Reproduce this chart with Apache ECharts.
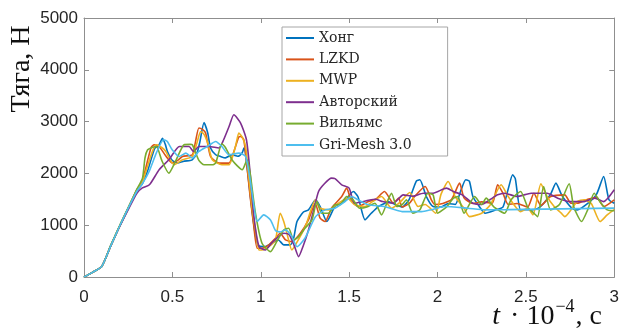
<!DOCTYPE html>
<html>
<head>
<meta charset="utf-8">
<script src="https://cdn.jsdelivr.net/npm/echarts@6/dist/echarts.min.js"></script>
<style>
  html, body { margin: 0; padding: 0; background: #fff; }
  #chart { width: 622px; height: 331px; }
</style>
</head>
<body>
<div id="chart"></div>
<script>
// Thrust vs. time, six models; each series is [t·1e4 (s), thrust (N)]
const seriesNames = ['Хонг', 'LZKD', 'MWP', 'Авторский', 'Вильямс', 'Gri-Mesh 3.0'];
const seriesColors = ['#0072BD', '#D95319', '#EDB120', '#7E2F8E', '#77AC30', '#4DBEEE'];

const xTicks = [0, 0.5, 1, 1.5, 2, 2.5, 3];
const yTicks = [0, 1000, 2000, 3000, 4000, 5000];

const hong = [[0,0],[0.05,95],[0.1,200],[0.15,590],[0.2,970],[0.25,1320],[0.3,1670],[0.33,1800],[0.36,2050],[0.4,2480],[0.425,2553],[0.444,2680],[0.46,2560],[0.472,2423],[0.5,2250],[0.53,2200],[0.56,2230],[0.6,2250],[0.613,2263],[0.64,2400],[0.655,2600],[0.679,2980],[0.7,2780],[0.716,2490],[0.745,2360],[0.77,2330],[0.8,2300],[0.838,2360],[0.87,2330],[0.895,2400],[0.905,2490],[0.915,2350],[0.93,1900],[0.95,1300],[0.97,800],[0.99,600],[1.026,586],[1.06,650],[1.1,715],[1.13,620],[1.167,620],[1.186,750],[1.205,1070],[1.24,1250],[1.27,1296],[1.31,1490],[1.336,1360],[1.374,1070],[1.42,1360],[1.47,1450],[1.524,1650],[1.55,1550],[1.59,1102],[1.625,1230],[1.665,1360],[1.7,1420],[1.72,1456],[1.76,1400],[1.8,1350],[1.84,1500],[1.88,1850],[1.9,1876],[1.937,1553],[1.975,1360],[2.02,1350],[2.06,1420],[2.1,1400],[2.13,1650],[2.16,1876],[2.18,1850],[2.2,1553],[2.23,1393],[2.27,1232],[2.33,1296],[2.37,1350],[2.4,1700],[2.425,1973],[2.44,1900],[2.47,1296],[2.51,1300],[2.53,1296],[2.57,1330],[2.6,1420],[2.64,1600],[2.67,1812],[2.7,1600],[2.72,1490],[2.76,1330],[2.79,1296],[2.85,1420],[2.9,1600],[2.94,1940],[2.97,1490],[3.0,1425]];

const lzkd = [[0,0],[0.05,95],[0.1,200],[0.15,590],[0.2,970],[0.25,1330],[0.3,1690],[0.33,1850],[0.36,2250],[0.38,2500],[0.397,2553],[0.425,2520],[0.46,2350],[0.5,2199],[0.53,2250],[0.557,2327],[0.613,2360],[0.63,2600],[0.65,2876],[0.67,2850],[0.688,2779],[0.716,2327],[0.763,2199],[0.82,2199],[0.848,2423],[0.875,2700],[0.886,2713],[0.904,2650],[0.92,2200],[0.94,1553],[0.96,1000],[0.98,555],[1.007,555],[1.045,619],[1.083,748],[1.11,845],[1.14,715],[1.176,683],[1.224,845],[1.27,1102],[1.308,1425],[1.336,1135],[1.364,1070],[1.4,1328],[1.458,1553],[1.486,1715],[1.51,1500],[1.55,1360],[1.61,1456],[1.65,1500],[1.7,1650],[1.75,1425],[1.78,1522],[1.8,1350],[1.84,1420],[1.87,1553],[1.93,1747],[1.965,1490],[1.985,1400],[2.03,1420],[2.08,1500],[2.125,1812],[2.15,1530],[2.2,1420],[2.25,1450],[2.31,1425],[2.34,1780],[2.37,1618],[2.4,1400],[2.45,1420],[2.51,1350],[2.545,1618],[2.585,1380],[2.64,1553],[2.72,1586],[2.754,1425],[2.79,1425],[2.85,1500],[2.9,1540],[2.94,1360],[3.0,1490]];

const mwp = [[0,0],[0.05,95],[0.1,200],[0.15,590],[0.2,970],[0.25,1330],[0.3,1680],[0.33,1830],[0.36,2150],[0.39,2450],[0.41,2553],[0.44,2500],[0.463,2423],[0.51,2166],[0.557,2263],[0.613,2327],[0.64,2600],[0.66,2810],[0.68,2750],[0.7,2586],[0.726,2263],[0.78,2166],[0.82,2166],[0.857,2520],[0.876,2779],[0.895,2700],[0.914,2520],[0.93,2000],[0.95,1360],[0.97,900],[0.99,522],[1.007,522],[1.045,586],[1.083,715],[1.11,1232],[1.13,1070],[1.148,845],[1.176,522],[1.196,619],[1.252,973],[1.31,1490],[1.336,1328],[1.383,1296],[1.44,1425],[1.49,1520],[1.533,1393],[1.59,1360],[1.63,1450],[1.683,1553],[1.74,1328],[1.79,1450],[1.843,1630],[1.89,1360],[1.93,1400],[1.99,1232],[2.02,1600],[2.06,1843],[2.1,1553],[2.15,1328],[2.18,1166],[2.25,1232],[2.3,1400],[2.36,1780],[2.4,1553],[2.47,1263],[2.51,1328],[2.54,1200],[2.585,1800],[2.62,1553],[2.66,1360],[2.7,1232],[2.72,1166],[2.79,1456],[2.83,1490],[2.87,1420],[2.92,1070],[2.96,1199],[3.0,1300]];

const avtorsky = [[0,0],[0.05,95],[0.1,200],[0.15,590],[0.2,960],[0.25,1300],[0.3,1620],[0.33,1720],[0.37,1780],[0.425,2070],[0.48,2263],[0.54,2520],[0.594,2520],[0.62,2423],[0.65,2520],[0.707,2520],[0.763,2490],[0.79,2650],[0.82,2900],[0.848,3133],[0.886,2972],[0.919,2650],[0.94,2000],[0.96,1200],[0.99,586],[1.026,522],[1.06,650],[1.1,780],[1.13,845],[1.16,820],[1.19,600],[1.214,393],[1.24,600],[1.27,909],[1.3,1300],[1.327,1650],[1.36,1800],[1.4,1908],[1.42,1900],[1.458,1780],[1.5,1715],[1.53,1425],[1.57,1450],[1.61,1480],[1.65,1500],[1.69,1456],[1.75,1425],[1.806,1586],[1.86,1560],[1.92,1618],[1.975,1618],[2.05,1715],[2.09,1650],[2.14,1586],[2.2,1425],[2.25,1400],[2.3,1500],[2.34,1586],[2.38,1618],[2.45,1553],[2.53,1618],[2.62,1618],[2.68,1522],[2.75,1456],[2.83,1456],[2.89,1522],[2.94,1456],[3.0,1683]];

const viliams = [[0,0],[0.05,95],[0.1,200],[0.15,600],[0.2,980],[0.25,1340],[0.3,1700],[0.331,1908],[0.345,2300],[0.36,2456],[0.385,2500],[0.41,2520],[0.44,2250],[0.48,2005],[0.52,2250],[0.566,2553],[0.6,2560],[0.613,2553],[0.65,2250],[0.68,2166],[0.726,2166],[0.745,2200],[0.78,2572],[0.8,2500],[0.84,2250],[0.895,2070],[0.923,2263],[0.94,2000],[0.97,1232],[1.007,652],[1.055,490],[1.09,683],[1.13,909],[1.158,941],[1.186,715],[1.214,780],[1.25,941],[1.29,1102],[1.317,1456],[1.345,1232],[1.383,1232],[1.42,1393],[1.45,1400],[1.486,1553],[1.52,1500],[1.56,1328],[1.6,1350],[1.646,1425],[1.683,1199],[1.72,1490],[1.74,1618],[1.77,1360],[1.8,1400],[1.824,1490],[1.86,1232],[1.9,1296],[1.946,1618],[1.975,1586],[2.0,1232],[2.05,1350],[2.09,1522],[2.115,1553],[2.15,1232],[2.21,1553],[2.25,1400],[2.275,1522],[2.32,1350],[2.38,1232],[2.416,1490],[2.47,1650],[2.51,1350],[2.545,1232],[2.566,1166],[2.6,1747],[2.64,1296],[2.69,1400],[2.745,1800],[2.77,1360],[2.815,1070],[2.85,1300],[2.886,1618],[2.92,1450],[2.96,1296],[3.0,1280]];

const griMesh = [[0,0],[0.05,95],[0.1,200],[0.15,590],[0.2,970],[0.25,1330],[0.3,1660],[0.33,1800],[0.37,2050],[0.41,2400],[0.45,2650],[0.47,2620],[0.5,2450],[0.538,2327],[0.576,2392],[0.613,2295],[0.65,2423],[0.698,2520],[0.745,2617],[0.78,2520],[0.82,2360],[0.876,2392],[0.914,2327],[0.94,1876],[0.96,1400],[0.98,1070],[1.017,1199],[1.055,1102],[1.083,900],[1.11,870],[1.14,909],[1.176,780],[1.205,586],[1.25,748],[1.31,1166],[1.365,1296],[1.42,1328],[1.477,1456],[1.514,1553],[1.55,1490],[1.61,1393],[1.7,1360],[1.8,1263],[1.91,1263],[1.965,1300],[2.04,1360],[2.17,1328],[2.27,1296],[2.4,1300],[2.6,1310],[2.8,1320],[3.0,1330]];

const seriesData = [hong, lzkd, mwp, avtorsky, viliams, griMesh];

const axisGray = '#8f8f8f';
const labelColor = '#262626';
const tickFont = "'Liberation Sans', Arial, Helvetica, sans-serif";
const serifFont = "'Liberation Serif', 'Times New Roman', serif";

function frameAxis(position, isX, showLabels) {
  const ticks = isX ? xTicks : yTicks;
  return {
    type: 'value',
    position: position,
    min: ticks[0],
    max: ticks[ticks.length - 1],
    interval: ticks[1] - ticks[0],
    axisLine: { show: true, onZero: false, lineStyle: { color: axisGray, width: 1 } },
    axisTick: { show: true, inside: true, length: 5, lineStyle: { color: axisGray, width: 1 } },
    splitLine: { show: false },
    axisLabel: {
      show: showLabels,
      color: labelColor,
      fontFamily: tickFont,
      fontSize: 17,
      margin: isX ? 12 : 6,
      formatter: (v) => String(v)
    }
  };
}

const chart = echarts.init(document.getElementById('chart'), null, { renderer: 'canvas' });

chart.setOption({
  animation: false,
  backgroundColor: '#fff',
  grid: { left: 84, right: 5, top: 18, bottom: 54, containLabel: false },
  xAxis: [frameAxis('bottom', true, true), frameAxis('top', true, false)],
  yAxis: [frameAxis('left', false, true), frameAxis('right', false, false)],
  legend: {
    orient: 'vertical',
    left: 282,
    top: 27,
    padding: [4, 36, 4, 3],
    itemWidth: 28,
    itemHeight: 14,
    itemGap: 7.4,
    borderColor: '#a6a6a6',
    borderWidth: 1,
    backgroundColor: '#fff',
    itemStyle: { opacity: 0 },
    textStyle: { fontFamily: "'DejaVu Serif', serif", fontSize: 14, color: labelColor },
    data: seriesNames
  },
  graphic: [
    {
      type: 'text',
      x: 22,
      y: 69,
      rotation: Math.PI / 2,
      style: {
        text: 'Тяга, Н',
        fontFamily: serifFont,
        fontSize: 28,
        fill: '#111',
        align: 'center',
        verticalAlign: 'middle'
      }
    },
    {
      type: 'text',
      right: 20,
      bottom: 0,
      style: {
        text: '{it|t}{n| · 10}{sup|−4}{n|, c}',
        fill: '#111',
        rich: {
          it: { fontFamily: serifFont, fontStyle: 'italic', fontSize: 28, lineHeight: 34, verticalAlign: 'bottom', padding: [0, 3, 0, 0] },
          n: { fontFamily: serifFont, fontSize: 28, lineHeight: 34, verticalAlign: 'bottom' },
          sup: { fontFamily: serifFont, fontSize: 18, lineHeight: 34, verticalAlign: 'top', padding: [1, 1, 0, 1] }
        }
      }
    }
  ],
  series: seriesNames.map((name, i) => ({
    name: name,
    type: 'line',
    data: seriesData[i],
    symbol: 'none',
    smooth: 0.2,
    lineStyle: { color: seriesColors[i], width: 1.6 },
    itemStyle: { color: seriesColors[i] },
    emphasis: { disabled: true }
  }))
});
</script>
</body>
</html>
